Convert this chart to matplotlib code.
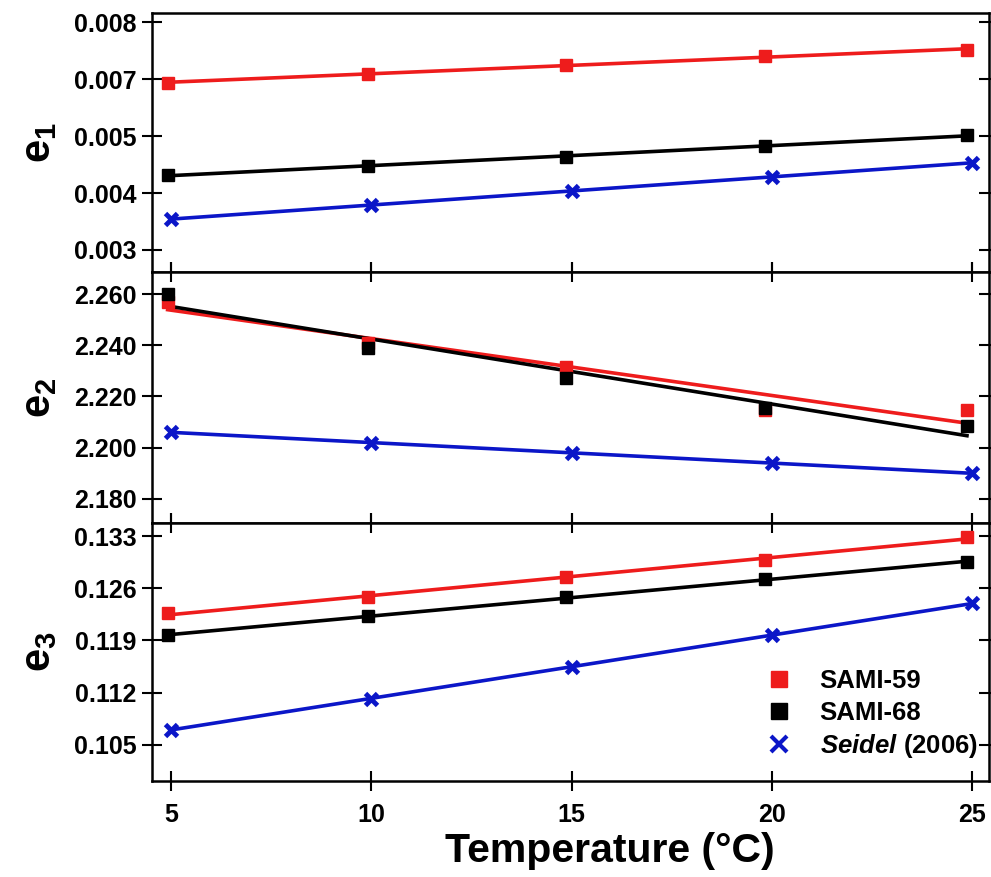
import numpy as np
import matplotlib
matplotlib.use("Agg")
import matplotlib.pyplot as plt

# fonts: Arial-like bold everywhere
plt.rcParams['font.family'] = ['Liberation Sans', 'DejaVu Sans']
plt.rcParams['font.weight'] = 'bold'
plt.rcParams['axes.labelweight'] = 'bold'
plt.rcParams['mathtext.fontset'] = 'custom'
plt.rcParams['mathtext.default'] = 'rm'
plt.rcParams['mathtext.rm'] = 'Liberation Sans'
plt.rcParams['mathtext.bfit'] = 'Liberation Sans:italic:bold'

# temperatures (SAMI measurements sit slightly below the nominal value)
T_sami = [4.92, 9.92, 14.87, 19.83, 24.87]
T_seidel = [5, 10, 15, 20, 25]

# e1
e1_sami59 = [0.00693, 0.00709, 0.00725, 0.00740, 0.00751]
e1_sami68 = [0.00532, 0.00547, 0.00563, 0.00582, 0.00602]
e1_seidel = [0.00454, 0.00479, 0.00504, 0.00528, 0.00553]
e1_ticks = [0.004, 0.005, 0.006, 0.007, 0.008]
e1_ticklabels = ["0.003", "0.004", "0.005", "0.007", "0.008"]  # as printed

# e2
e2_sami59 = [2.2569, 2.2410, 2.2315, 2.2147, 2.2147]
e2_sami68 = [2.2600, 2.2390, 2.2272, 2.2155, 2.2085]
e2_seidel = [2.206, 2.202, 2.198, 2.194, 2.190]
e2_ticks = [2.180, 2.200, 2.220, 2.240, 2.260]
e2_ticklabels = ["2.180", "2.200", "2.220", "2.240", "2.260"]

# e3
e3_sami59 = [0.12263, 0.12479, 0.12748, 0.12977, 0.13287]
e3_sami68 = [0.11967, 0.12223, 0.12479, 0.12721, 0.12950]
e3_seidel = [0.10702, 0.11119, 0.11550, 0.11967, 0.12398]
e3_ticks = [0.105, 0.112, 0.119, 0.126, 0.133]
e3_ticklabels = ["0.105", "0.112", "0.119", "0.126", "0.133"]

xticks = [5, 10, 15, 20, 25]

red = '#ee1c1c'
blue = '#0b16c8'
black = '#000000'

fig = plt.figure(figsize=(9.91, 8.77), dpi=100)
left, right = 152/991, 989/991
bounds = [(13, 272), (272, 523), (523, 781)]
axes = []
for top, bot in bounds:
    ax = fig.add_axes([left, 1 - bot/877, right - left, (bot - top)/877])
    axes.append(ax)

panels = [
    (e1_sami59, e1_sami68, e1_seidel, e1_ticks, e1_ticklabels, (0.003614, 0.008158), "e$_1$"),
    (e2_sami59, e2_sami68, e2_seidel, e2_ticks, e2_ticklabels, (2.1706, 2.2686), "e$_2$"),
    (e3_sami59, e3_sami68, e3_seidel, e3_ticks, e3_ticklabels, (0.10015, 0.13475), "e$_3$"),
]

for i, (ax, (s59, s68, sd, yt, ytl, ylim, lab)) in enumerate(zip(axes, panels)):
    for T, y, c, m in [(T_sami, s59, red, 's'), (T_sami, s68, black, 's'), (T_seidel, sd, blue, 'x')]:
        p = np.polyfit(T, y, 1)
        xx = np.array([min(T), max(T)])
        ax.plot(xx, np.polyval(p, xx), color=c, lw=2.6, zorder=2)
        if m == 's':
            ax.plot(T, y, ls='none', marker='s', ms=8.5, color=c, zorder=3)
        else:
            ax.plot(T, y, ls='none', marker='x', ms=8, mew=3.5, color=c, zorder=3)
    ax.set_yticks(yt)
    ax.set_yticklabels(ytl)
    ax.set_ylim(*ylim)
    ax.set_xlim(4.53, 25.42)
    ax.set_xticks(xticks)
    ax.set_ylabel(lab, fontsize=30, labelpad=11)
    for s in ax.spines.values():
        s.set_linewidth(1.8)
    ax.tick_params(axis='both', direction='inout', length=14, width=1.5,
                   labelsize=18, right=True, top=(i > 0))
    ax.tick_params(axis='y', pad=4)
    if i < 2:
        ax.tick_params(axis='x', labelbottom=False)
    else:
        ax.tick_params(axis='x', pad=9)

axes[2].set_xlabel("Temperature (°C)", fontsize=29.5)
axes[2].xaxis.set_label_coords(0.547, -0.197)

# legend (markers only)
h1, = axes[2].plot([], [], ls='none', marker='s', ms=11, color=red)
h2, = axes[2].plot([], [], ls='none', marker='s', ms=11, color=black)
h3, = axes[2].plot([], [], ls='none', marker='x', ms=11, mew=3, color=blue)
axes[2].legend([h1, h2, h3], ["SAMI-59", "SAMI-68", r"$\mathbfit{Seidel}$ (2006)"],
               loc='lower right', bbox_to_anchor=(1.005, 0.02), frameon=False,
               fontsize=18.5, handletextpad=0.6, labelspacing=0.3, borderaxespad=0.2)

fig.savefig("out.png", dpi=100)
